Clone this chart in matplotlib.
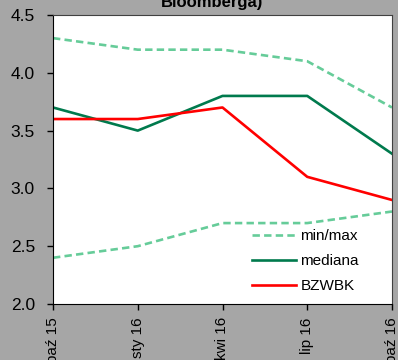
import numpy as np
import matplotlib.pyplot as plt

plt.rcParams['font.family'] = ['Liberation Sans', 'DejaVu Sans']

months = ['paź 15', 'sty 16', 'kwi 16', 'lip 16', 'paź 16']
max_vals = [4.3, 4.2, 4.2, 4.1, 3.7]
min_vals = [2.4, 2.5, 2.7, 2.7, 2.8]
mediana = [3.7, 3.5, 3.8, 3.8, 3.3]
bzwbk = [3.6, 3.6, 3.7, 3.1, 2.9]

x = np.arange(len(months))

fig = plt.figure(figsize=(3.98, 3.60), dpi=100, facecolor='#a6a6a6')
ax = fig.add_axes([53/398, 56/360, 339/398, 289/360])
ax.set_facecolor('white')

light = '#66cc99'
ax.plot(x, max_vals, color=light, lw=1.9, dashes=(2.8, 1.6), label='min/max')
ax.plot(x, min_vals, color=light, lw=1.9, dashes=(2.8, 1.6))
ax.plot(x, mediana, color='#007a4d', lw=1.9, label='mediana')
ax.plot(x, bzwbk, color='#ff0000', lw=1.9, label='BZWBK')

ax.set_xlim(0, 4)
ax.set_ylim(2.0, 4.5)
yt = np.arange(2.0, 4.51, 0.5)
ax.set_yticks(yt)
ax.set_yticklabels(['%.1f' % v for v in yt], fontsize=12.5)
ax.set_xticks(x)
ax.set_xticklabels(months, rotation=90, fontsize=11)
ax.tick_params(axis='y', direction='out', length=4, width=1, pad=9)
ax.tick_params(axis='x', direction='out', length=4.5, width=1, pad=5)

for s in ['left', 'bottom']:
    ax.spines[s].set_color('black')
for s in ['top', 'right']:
    ax.spines[s].set_color('#404040')

ax.legend(loc='lower left', bbox_to_anchor=(0.545, -0.01), frameon=False,
          fontsize=11, handlelength=2.9, labelspacing=0.72, handletextpad=0.3)

fig.text(0.533, 1 - 7/360, 'Bloomberga)', ha='center', va='baseline',
         fontsize=12, fontweight='bold')

fig.savefig('out.png', dpi=100, facecolor=fig.get_facecolor())
